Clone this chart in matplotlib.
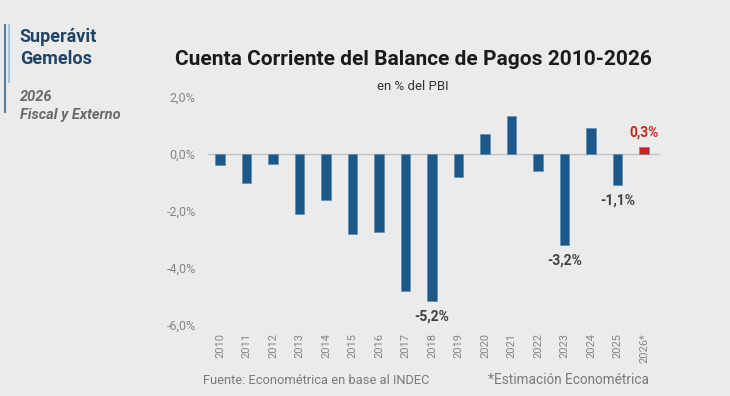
import matplotlib
matplotlib.use('Agg')
import matplotlib.pyplot as plt
from matplotlib.ticker import FuncFormatter

# datos (% del PBI)
years = ['2010', '2011', '2012', '2013', '2014', '2015', '2016', '2017', '2018',
         '2019', '2020', '2021', '2022', '2023', '2024', '2025', '2026*']
values = [-0.4, -1.0, -0.35, -2.1, -1.6, -2.8, -2.75, -4.8, -5.15,
          -0.8, 0.7, 1.35, -0.6, -3.2, 0.9, -1.1, 0.25]
labels = {8: '-5,2%', 13: '-3,2%', 15: '-1,1%', 16: '0,3%'}

bg = '#ebebeb'
blue = '#1d5787'
red = '#c8261a'
grey = '#7a7a7a'

plt.rcParams['font.family'] = ['Roboto', 'DejaVu Sans']

fig = plt.figure(figsize=(7.3, 3.96), dpi=100, facecolor=bg)
ax = fig.add_axes([0.285, 0.179, 0.619, 0.576], facecolor=bg)

x = list(range(len(years)))
colors = [blue] * (len(years) - 1) + [red]
ax.bar(x, values, width=0.35, color=colors, edgecolor='#4f8ab8', linewidth=0.4, zorder=3)
ax.axhline(0, color='#c4c4c4', lw=1, zorder=2)

ax.set_ylim(-6, 2)
ax.set_xlim(-0.45, 16.6)
ax.set_yticks([-6, -4, -2, 0, 2])
ax.yaxis.set_major_formatter(FuncFormatter(lambda v, p: ('%.1f%%' % v).replace('.', ',')))
ax.set_xticks(x)
ax.set_xticklabels(years, rotation=90)
ax.tick_params(axis='both', length=0, colors='#858585')
ax.tick_params(axis='y', pad=9, labelsize=9)
ax.tick_params(axis='x', pad=6, labelsize=8)
for s in ax.spines.values():
    s.set_visible(False)

for i, t in labels.items():
    v = values[i]
    if v < 0:
        ax.text(i, v - 0.3, t, ha='center', va='top', fontsize=10,
                fontweight='bold', color='#404040')
    else:
        ax.text(i, v + 0.25, t, ha='center', va='bottom', fontsize=10,
                fontweight='bold', color=red)

# titulos
fig.text(0.566, 0.850, 'Cuenta Corriente del Balance de Pagos 2010-2026',
         ha='center', va='center', fontsize=15, fontweight='bold', color='#1a1a1a')
fig.text(0.566, 1 - 86 / 396, 'en % del PBI', ha='center', va='center', fontsize=9.5, color='#333333')

# panel izquierdo
fig.add_artist(plt.Line2D([0.007, 0.007], [1 - 25 / 396, 1 - 112 / 396], color='#5d7f9c', lw=1.5))
fig.add_artist(plt.Line2D([0.013, 0.013], [1 - 25 / 396, 1 - 82 / 396], color='#a9c4db', lw=1.5))
fig.text(0.027, 1 - 48 / 396, 'Superávit\nGemelos', ha='left', va='center', fontsize=13,
         fontweight='bold', color='#1f4466', linespacing=1.25)
fig.text(0.027, 1 - 106 / 396, '2026\nFiscal y Externo', ha='left', va='center', fontsize=10.5,
         fontstyle='italic', fontweight='semibold', color='#6a6a6a', linespacing=1.35)

# pie
fig.text(0.278, 1 - 380 / 396, 'Fuente: Econométrica en base al INDEC', ha='left', va='center',
         fontsize=9.3, color=grey)
fig.text(0.668, 1 - 380 / 396, '*Estimación Econométrica', ha='left', va='center',
         fontsize=9.8, color=grey)

fig.savefig('out.png', dpi=100, facecolor=bg)
plt.close('all')
